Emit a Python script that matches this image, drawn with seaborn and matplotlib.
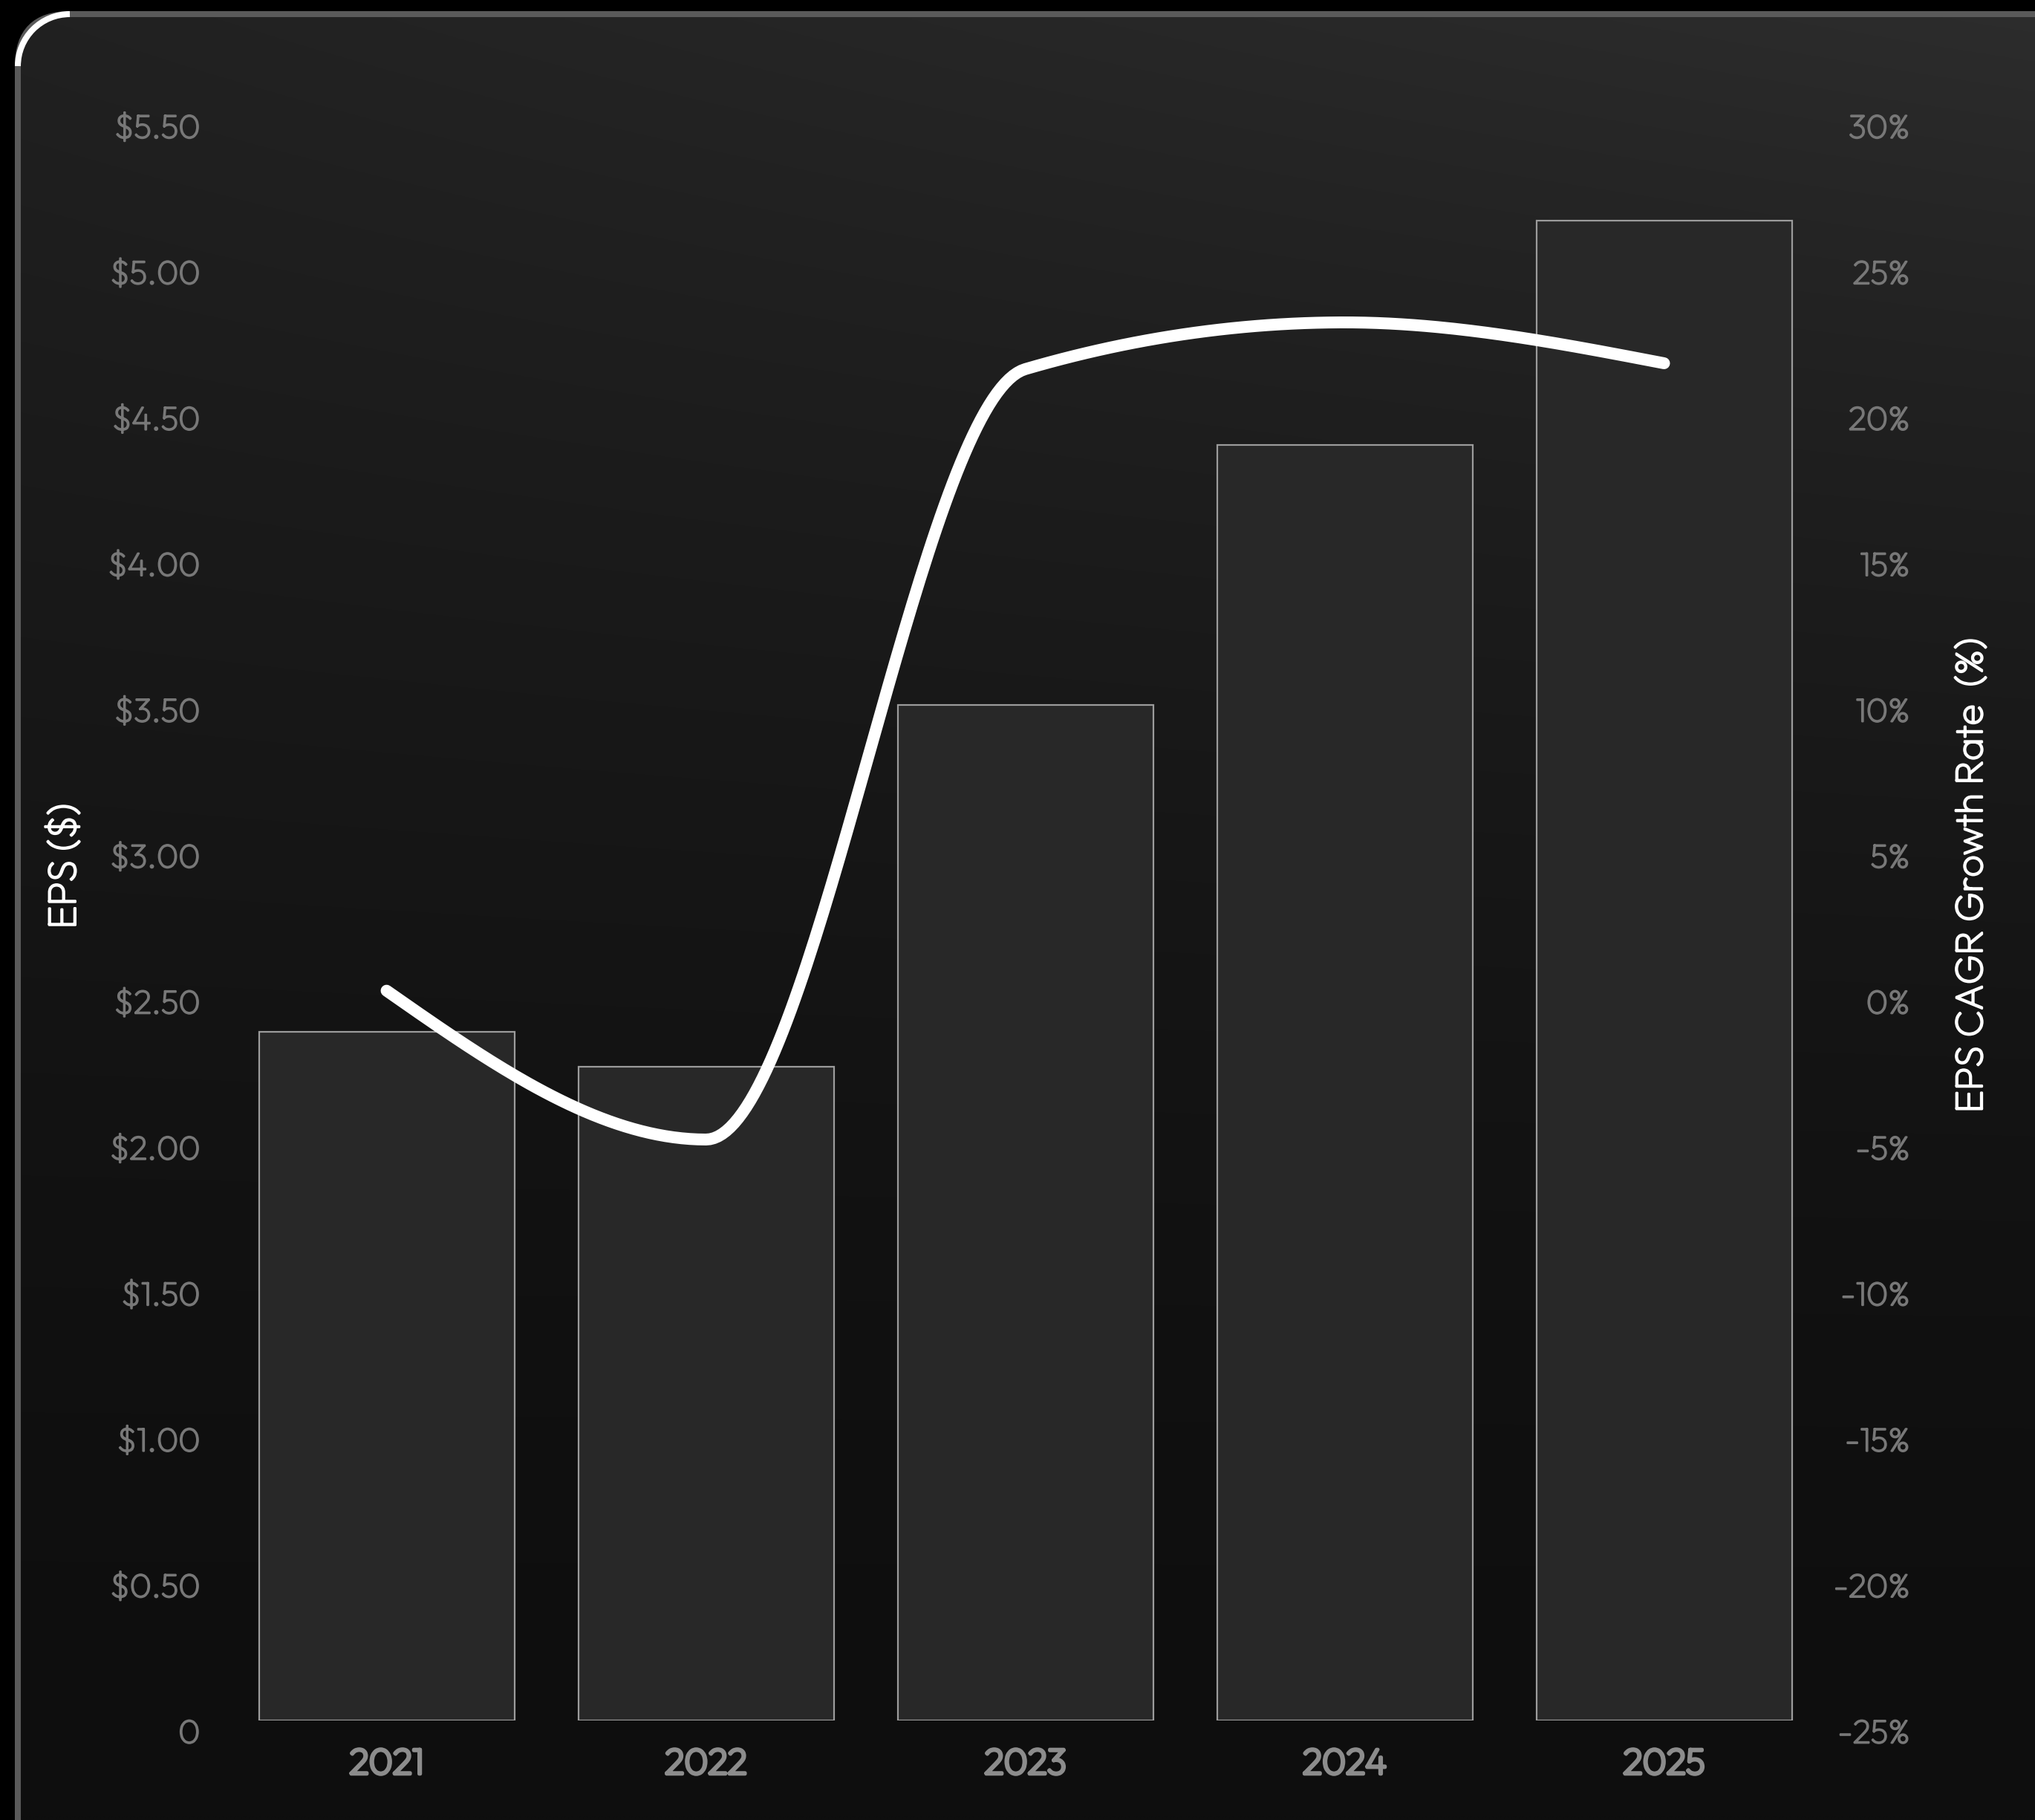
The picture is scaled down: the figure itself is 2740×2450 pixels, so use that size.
import numpy as np
import pandas as pd
import matplotlib
matplotlib.use("Agg")
import matplotlib.pyplot as plt
import matplotlib.transforms as mtransforms
import matplotlib.patheffects as pe
from matplotlib.patches import FancyBboxPatch, Arc
import seaborn as sns

years = ["2021", "2022", "2023", "2024", "2025"]
eps = [2.36, 2.24, 3.48, 4.37, 5.14]
cagr = [0.0, -5.1, 21.3, 22.9, 21.5]

eps_ticks = [0, 0.5, 1.0, 1.5, 2.0, 2.5, 3.0, 3.5, 4.0, 4.5, 5.0, 5.5]
eps_tick_labels = ["0"] + [f"${v:.2f}" for v in eps_ticks[1:]]
cagr_ticks = [-25, -20, -15, -10, -5, 0, 5, 10, 15, 20, 25, 30]
cagr_tick_labels = [f"{v}%" for v in cagr_ticks]


def monotone_curve(x, y, n=80):
    # monotone cubic (same as d3 curveMonotoneX)
    x = np.asarray(x, float)
    y = np.asarray(y, float)
    h = np.diff(x)
    s = np.diff(y) / h
    t = np.zeros_like(y)
    for i in range(1, len(y) - 1):
        p = (s[i - 1] * h[i] + s[i] * h[i - 1]) / (h[i - 1] + h[i])
        t[i] = (np.sign(s[i - 1]) + np.sign(s[i])) * min(abs(s[i - 1]), abs(s[i]), 0.5 * abs(p))
    t[0] = (3 * s[0] - t[1]) / 2
    t[-1] = (3 * s[-1] - t[-2]) / 2
    xs, ys = [], []
    for i in range(len(h)):
        u = np.linspace(0, 1, n)
        h00 = 2 * u**3 - 3 * u**2 + 1
        h10 = u**3 - 2 * u**2 + u
        h01 = -2 * u**3 + 3 * u**2
        h11 = u**3 - u**2
        xs.append(x[i] + u * h[i])
        ys.append(h00 * y[i] + h10 * h[i] * t[i] + h01 * y[i + 1] + h11 * h[i] * t[i + 1])
    return np.concatenate(xs), np.concatenate(ys)


def thicken(txt, lw):
    # the installed Outfit face is very thin, fatten it a bit
    txt.set_path_effects([pe.withStroke(linewidth=lw, foreground=txt.get_color())])


sns.set_theme(style="white")
plt.rcParams["font.family"] = ["Outfit", "Lato", "DejaVu Sans"]

W, H = 2740, 2450
fig = plt.figure(figsize=(W / 100, H / 100), dpi=100)
fig.patch.set_facecolor("black")

# background card with gradient
ax_bg = fig.add_axes([0, 0, 1, 1], zorder=-5)
ax_bg.set_xlim(0, W)
ax_bg.set_ylim(H, 0)
ax_bg.axis("off")
gy, gx = np.mgrid[0:1:245j, 0:1:274j]
lum = 14 + 19 * (1 - gy) ** 1.5 + 12 * gx * (1 - gy) ** 3
img = np.dstack([lum, lum, lum]) / 255.0
card = FancyBboxPatch((24, 19), W + 100, H + 100,
                      boxstyle="round,pad=0,rounding_size=70",
                      facecolor="none", edgecolor="#5a5a5a", linewidth=5.8)
ax_bg.add_patch(card)
im = ax_bg.imshow(img, extent=(0, W, H, 0), aspect="auto", interpolation="bilinear")
im.set_clip_path(card)
ax_bg.add_patch(Arc((94, 89), 140, 140, theta1=180, theta2=270,
                    color="white", linewidth=5.8))

# main chart
ax = fig.add_axes([0.1115, 0.0548, 0.7847, 0.8819])
ax.set_facecolor("none")
df = pd.DataFrame({"year": years, "eps": eps})
sns.barplot(data=df, x="year", y="eps", ax=ax, width=0.8,
            color="#282828", edgecolor="#9c9c9c", linewidth=1.6, saturation=1)
for p in ax.patches:
    p.set_facecolor("#282828")
ax.set_xlim(-0.5, 4.5)
ax.set_ylim(0, 5.5)
ax.set_yticks(eps_ticks)
ax.set_yticklabels(eps_tick_labels)
ax.set_xlabel("")
ax.set_ylabel("")
ax.tick_params(axis="y", length=0, pad=26, labelsize=32, labelcolor="#787878")
ax.tick_params(axis="x", length=0, pad=27.5, labelsize=35, labelcolor="#8c8c8c")
sns.despine(ax=ax, left=True, bottom=True)

ax2 = ax.twinx()
cx, cy = monotone_curve(range(len(years)), cagr)
sns.lineplot(x=cx, y=cy, ax=ax2, color="white", linewidth=11.5,
             sort=False, estimator=None, solid_capstyle="round")
ax2.set_ylim(-25, 30)
ax2.set_yticks(cagr_ticks)
ax2.set_yticklabels(cagr_tick_labels, ha="right")
ax2.tick_params(axis="y", length=0, pad=83.5, labelsize=32, labelcolor="#787878")
ax2.set_ylabel("")
for s in ax2.spines.values():
    s.set_visible(False)

shift = mtransforms.ScaledTranslation(0, -0.15, fig.dpi_scale_trans)
for lbl in ax.get_yticklabels() + ax2.get_yticklabels():
    lbl.set_transform(lbl.get_transform() + shift)
    thicken(lbl, 1.7)
for lbl in ax.get_xticklabels():
    thicken(lbl, 3.4)

t1 = fig.text(88 / W, 1 - 1166 / H, "EPS ($)", rotation=90, ha="center", va="center",
              fontsize=38, color="white")
t2 = fig.text(2656 / W, 1 - 1178 / H, "EPS CAGR Growth Rate  (%)", rotation=90,
              ha="center", va="center", fontsize=37, color="white")
thicken(t1, 2.0)
thicken(t2, 2.0)

fig.savefig("out.png", dpi=100, facecolor=fig.get_facecolor())
